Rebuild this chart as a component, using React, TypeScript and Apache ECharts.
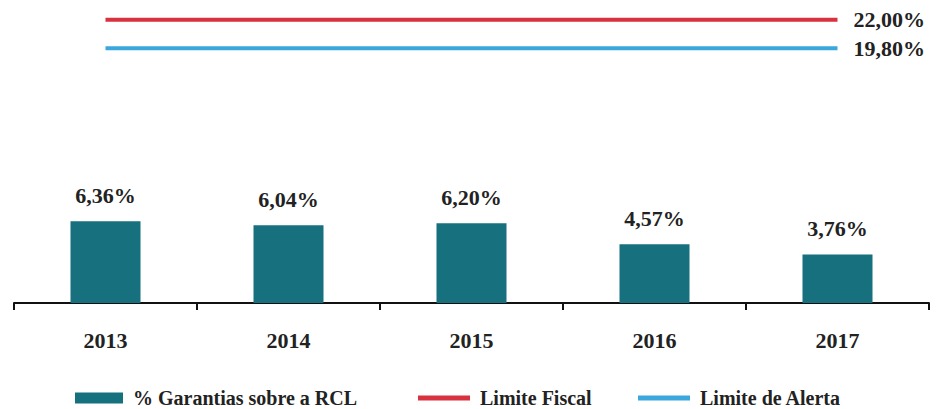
import React, { useEffect, useRef } from "react";
import * as echarts from "echarts";

const categories = ["2013", "2014", "2015", "2016", "2017"];
const garantias = [6.36, 6.04, 6.2, 4.57, 3.76];
const limiteFiscal = [22, 22, 22, 22, 22];
const limiteAlerta = [19.8, 19.8, 19.8, 19.8, 19.8];
const seriesNames = ["% Garantias sobre a RCL", "Limite Fiscal", "Limite de Alerta"];

const FONT = "serif";
const fmt = (v: number) => v.toFixed(2).replace(".", ",") + "%";

export default function App() {
  const ref = useRef<HTMLDivElement>(null);
  useEffect(() => {
    if (!ref.current) return;
    const chart = echarts.init(ref.current, undefined, { renderer: "svg" });
    const legendText = { fontFamily: FONT, fontWeight: "bold" as const, fontSize: 20, color: "#222", padding: [0, 0, 0, 5] };
    const lineIcon = "path://M0,0 L52,0 L52,5 L0,5 Z";
    const labelStyle = { fontFamily: FONT, fontWeight: "bold" as const, fontSize: 22, color: "#222" };
    chart.setOption({
      animation: false,
      backgroundColor: "#ffffff",
      grid: { left: 14, right: 10, top: 7, bottom: 106, containLabel: false },
      legend: [
        { data: [{ name: seriesNames[0], icon: "rect" }], left: 70, top: 383, itemWidth: 48, itemHeight: 11, textStyle: legendText },
        { data: [{ name: seriesNames[1], icon: lineIcon }], left: 413, top: 383, itemWidth: 52, itemHeight: 5, textStyle: legendText },
        { data: [{ name: seriesNames[2], icon: lineIcon }], left: 633, top: 383, itemWidth: 52, itemHeight: 5, textStyle: legendText },
      ],
      xAxis: {
        type: "category",
        data: categories,
        boundaryGap: true,
        axisLine: { lineStyle: { color: "#111", width: 2 } },
        axisTick: { show: true, inside: false, length: 7, lineStyle: { color: "#111", width: 2 } },
        axisLabel: { margin: 26, ...labelStyle },
      },
      yAxis: { type: "value", min: 0, max: 23, show: false, splitLine: { show: false } },
      series: [
        {
          name: seriesNames[0],
          type: "bar",
          data: garantias,
          barWidth: 70,
          itemStyle: { color: "#16707E" },
          label: {
            show: true,
            position: "top",
            distance: 15,
            formatter: (p: any) => fmt(p.value),
            ...labelStyle,
          },
        },
        {
          name: seriesNames[1],
          type: "line",
          data: limiteFiscal,
          symbol: "none",
          lineStyle: { color: "#D8323E", width: 4 },
          itemStyle: { color: "#D8323E" },
          endLabel: { show: true, distance: 16, formatter: (p: any) => fmt(p.value), ...labelStyle },
        },
        {
          name: seriesNames[2],
          type: "line",
          data: limiteAlerta,
          symbol: "none",
          lineStyle: { color: "#3AA8DC", width: 4 },
          itemStyle: { color: "#3AA8DC" },
          endLabel: { show: true, distance: 16, formatter: (p: any) => fmt(p.value), ...labelStyle },
        },
      ],
    });
    return () => chart.dispose();
  }, []);
  return <div ref={ref} style={{ width: 939, height: 409, position: "absolute", left: 0, top: 0 }} />;
}
